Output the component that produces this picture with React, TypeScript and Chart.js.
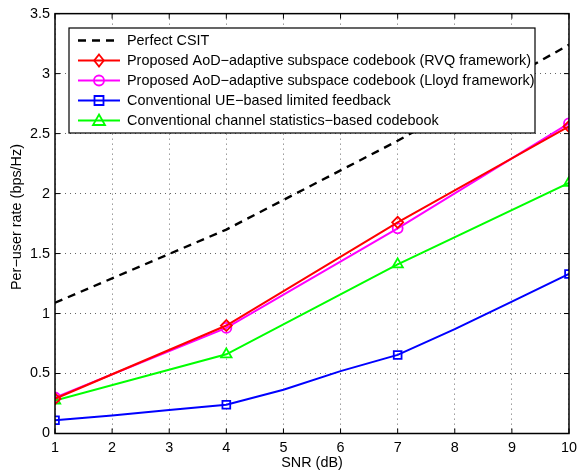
import React, { useEffect, useRef } from "react";
import { Chart, registerables } from "chart.js";

Chart.register(...registerables);

// SNR points (dB)
const snrMarked = [1, 4, 7, 10];
const snrAll = [1, 2, 3, 4, 5, 6, 7, 8, 9, 10];

// Per-user rate (bps/Hz)
const perfectCsit = [1.09, 1.7, 2.44, 3.24];
const proposedRvq = [0.29, 0.9, 1.76, 2.56];
const proposedLloyd = [0.3, 0.88, 1.71, 2.585];
const ueFeedback = [0.11, 0.15, 0.195, 0.24, 0.365, 0.52, 0.655, 0.87, 1.1, 1.33];
const statsCodebook = [0.275, 0.66, 1.41, 2.09];

const seriesLabels = [
  "Perfect CSIT",
  "Proposed AoD\u2212adaptive subspace codebook (RVQ framework)",
  "Proposed AoD\u2212adaptive subspace codebook (Lloyd framework)",
  "Conventional UE\u2212based limited feedback",
  "Conventional channel statistics\u2212based codebook",
];

const xTitle = "SNR (dB)";
const yTitle = "Per\u2212user rate (bps/Hz)";

const FONT = "Liberation Sans, Arial, Helvetica, sans-serif";
const FONT_SIZE = 14.4;

const pts = (xs: number[], ys: number[]) => xs.map((x, i) => ({ x, y: ys[i] }));

type LegendEntry = { color: string; dash: number[]; marker: string | null; width: number };

const legendEntries: LegendEntry[] = [
  { color: "#000000", dash: [8, 6], marker: null, width: 2.4 },
  { color: "#ff0000", dash: [], marker: "rectRot", width: 2 },
  { color: "#ff00ff", dash: [], marker: "circle", width: 2 },
  { color: "#0000ff", dash: [], marker: "rect", width: 2 },
  { color: "#00ff00", dash: [], marker: "triangle", width: 2 },
];

function drawMarker(ctx: CanvasRenderingContext2D, kind: string, x: number, y: number, color: string) {
  ctx.save();
  ctx.strokeStyle = color;
  ctx.lineWidth = 1.8;
  ctx.setLineDash([]);
  ctx.beginPath();
  if (kind === "rectRot") {
    const r = 6;
    ctx.moveTo(x, y - r);
    ctx.lineTo(x + r * 0.8, y);
    ctx.lineTo(x, y + r);
    ctx.lineTo(x - r * 0.8, y);
    ctx.closePath();
  } else if (kind === "circle") {
    ctx.arc(x, y, 5, 0, Math.PI * 2);
  } else if (kind === "rect") {
    ctx.rect(x - 4.5, y - 4.5, 9, 9);
  } else if (kind === "triangle") {
    ctx.moveTo(x, y - 6);
    ctx.lineTo(x + 6, y + 4.5);
    ctx.lineTo(x - 6, y + 4.5);
    ctx.closePath();
  }
  ctx.stroke();
  ctx.restore();
}

const framePlugin = {
  id: "matlabFrame",
  afterDraw(chart: any) {
    const ctx: CanvasRenderingContext2D = chart.ctx;
    const a = chart.chartArea;
    const xs = chart.scales.x;
    const ys = chart.scales.y;
    ctx.save();
    // axes box
    ctx.strokeStyle = "#000";
    ctx.lineWidth = 1.5;
    ctx.setLineDash([]);
    ctx.strokeRect(a.left, a.top, a.right - a.left, a.bottom - a.top);
    // inward tick marks
    ctx.lineWidth = 1;
    ctx.beginPath();
    xs.ticks.forEach((t: any) => {
      const px = xs.getPixelForValue(t.value);
      ctx.moveTo(px, a.bottom);
      ctx.lineTo(px, a.bottom - 5);
      ctx.moveTo(px, a.top);
      ctx.lineTo(px, a.top + 5);
    });
    ys.ticks.forEach((t: any) => {
      const py = ys.getPixelForValue(t.value);
      ctx.moveTo(a.left, py);
      ctx.lineTo(a.left + 5, py);
      ctx.moveTo(a.right, py);
      ctx.lineTo(a.right - 5, py);
    });
    ctx.stroke();

    // axis titles
    ctx.fillStyle = "#000";
    ctx.font = `${FONT_SIZE}px ${FONT}`;
    ctx.textAlign = "center";
    ctx.textBaseline = "middle";
    ctx.fillText(xTitle, (a.left + a.right) / 2, 463.5);
    ctx.save();
    ctx.translate(17, 217);
    ctx.rotate(-Math.PI / 2);
    ctx.fillText(yTitle, 0, 0);
    ctx.restore();

    // legend box
    const bx = 69, by = 28, bw = 466, bh = 105;
    ctx.fillStyle = "#fff";
    ctx.fillRect(bx, by, bw, bh);
    ctx.strokeStyle = "#000";
    ctx.lineWidth = 1.2;
    ctx.strokeRect(bx, by, bw, bh);
    legendEntries.forEach((e, i) => {
      const y = 40.5 + i * 20;
      ctx.save();
      ctx.strokeStyle = e.color;
      ctx.lineWidth = e.width;
      ctx.setLineDash(e.dash);
      ctx.beginPath();
      ctx.moveTo(78, y);
      ctx.lineTo(120, y);
      ctx.stroke();
      ctx.restore();
      if (e.marker) drawMarker(ctx, e.marker, 99, y, e.color);
      ctx.fillStyle = "#000";
      ctx.font = `${FONT_SIZE}px ${FONT}`;
      ctx.textAlign = "left";
      ctx.textBaseline = "middle";
      ctx.fillText(seriesLabels[i], 127, y + 0.5);
    });
    ctx.restore();
  },
};

const fmtTick = (v: number | string) => String(Number(v));

export default function App() {
  const canvasRef = useRef<HTMLCanvasElement | null>(null);

  useEffect(() => {
    const canvas = canvasRef.current;
    if (!canvas) return;
    const common = {
      borderWidth: 2,
      pointBackgroundColor: "rgba(0,0,0,0)",
      pointBorderWidth: 1.8,
      tension: 0,
      fill: false,
    };
    const gridOpts = {
      color: "rgba(0,0,0,0.6)",
      lineWidth: 1,
      drawTicks: false,
    };
    const chart = new Chart(canvas, {
      type: "line",
      data: {
        datasets: [
          {
            ...common,
            label: seriesLabels[0],
            data: pts(snrMarked, perfectCsit),
            borderColor: "#000000",
            borderDash: [8, 6],
            borderWidth: 2.4,
            pointRadius: 0,
          },
          {
            ...common,
            label: seriesLabels[1],
            data: pts(snrMarked, proposedRvq),
            borderColor: "#ff0000",
            pointBorderColor: "#ff0000",
            pointStyle: "rectRot",
            pointRadius: 5.5,
          },
          {
            ...common,
            label: seriesLabels[2],
            data: pts(snrMarked, proposedLloyd),
            borderColor: "#ff00ff",
            pointBorderColor: "#ff00ff",
            pointStyle: "circle",
            pointRadius: 5,
          },
          {
            ...common,
            label: seriesLabels[3],
            data: pts(snrAll, ueFeedback),
            borderColor: "#0000ff",
            pointBorderColor: "#0000ff",
            pointStyle: "rect",
            pointRadius: snrAll.map((s) => (snrMarked.includes(s) ? 5.5 : 0)),
          },
          {
            ...common,
            label: seriesLabels[4],
            data: pts(snrMarked, statsCodebook),
            borderColor: "#00ff00",
            pointBorderColor: "#00ff00",
            pointStyle: "triangle",
            pointRadius: 6,
          },
        ],
      },
      options: {
        animation: false,
        responsive: false,
        maintainAspectRatio: false,
        layout: { padding: { top: 10, right: 8, left: 0, bottom: 0 } },
        plugins: {
          legend: { display: false },
          tooltip: { enabled: false },
        },
        scales: {
          x: {
            type: "linear",
            min: 1,
            max: 10,
            ticks: {
              stepSize: 1,
              color: "#000",
              font: { family: FONT, size: FONT_SIZE },
              padding: 6,
              maxRotation: 0,
              callback: fmtTick,
            },
            grid: gridOpts,
            border: { display: false, dash: [1, 4] },
            afterFit: (s: any) => {
              s.height = 38.5;
            },
          },
          y: {
            type: "linear",
            min: 0,
            max: 3.5,
            ticks: {
              stepSize: 0.5,
              color: "#000",
              font: { family: FONT, size: FONT_SIZE },
              padding: 5,
              callback: fmtTick,
            },
            grid: gridOpts,
            border: { display: false, dash: [1, 4] },
            afterFit: (s: any) => {
              s.width = 55;
            },
          },
        },
      },
      plugins: [framePlugin],
    } as any);
    return () => chart.destroy();
  }, []);

  return (
    <div style={{ position: "fixed", left: 0, top: 0, width: 583, height: 472, background: "#fff" }}>
      <canvas ref={canvasRef} width={583} height={472} style={{ display: "block" }} />
    </div>
  );
}
